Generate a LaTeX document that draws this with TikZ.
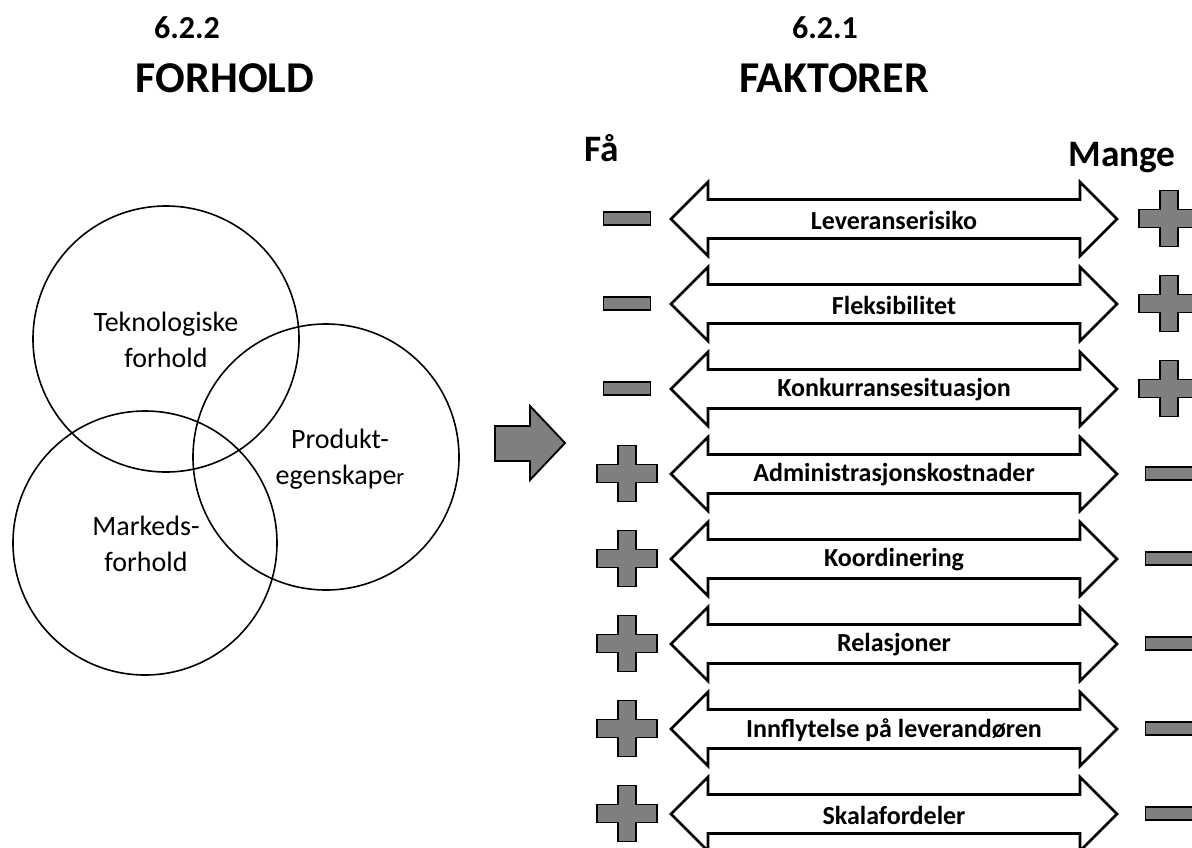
\documentclass[tikz,border=0pt]{standalone}
\usepackage{fontspec}
\setmainfont{Carlito}
\usetikzlibrary{positioning}
\definecolor{signgray}{HTML}{7F7F7F}
\tikzset{
  sign/.style={draw=black,fill=signgray,line width=1.4pt,line join=miter},
  dblarrow/.style={draw=black,fill=white,line width=2pt,line join=miter},
  ring/.style={draw=black,line width=1.2pt},
  ringtext/.style={align=center,inner sep=0pt,font=\fontsize{21}{27}\selectfont},
  rowtext/.style={inner sep=0pt,font=\fontsize{19.5}{23}\selectfont\bfseries},
  headtext/.style={inner sep=0pt,anchor=base,font=\fontsize{33}{40}\selectfont\bfseries},
  numtext/.style={inner sep=0pt,anchor=base,font=\fontsize{24}{29}\selectfont\bfseries},
  endtext/.style={inner sep=0pt,anchor=base,font=\fontsize{28}{34}\selectfont\bfseries},
  pics/plussign/.style={code={
    \path[sign] (-30,-9) -- (-9,-9) -- (-9,-28) -- (9,-28) -- (9,-9) -- (30,-9)
      -- (30,9) -- (9,9) -- (9,28) -- (-9,28) -- (-9,9) -- (-30,9) -- cycle;}},
  pics/minussign/.style={code={\path[sign] (-23.5,-6.5) rectangle (23.5,6.5);}},
}
\begin{document}
\begin{tikzpicture}[x=0.75pt,y=-0.75pt]
\useasboundingbox (0,0) rectangle (1192,847);
% headings
\node[numtext] (N2) at (187,38) {6.2.2};
\node[headtext] (H2) at (225,92) {FORHOLD};
\node[numtext] (N1) at (825,38) {6.2.1};
\node[headtext] (H1) at (834,92) {FAKTORER};
\node[endtext] (Fa) at (602,161) {Få};
\node[endtext] (Ma) at (1122,166) {Mange};
% circles
\draw[ring] (166,339) circle[radius=133];
\draw[ring] (326,457) circle[radius=133];
\draw[ring] (145,543) circle[radius=132];
\node[ringtext] (T) at (166,340) {Teknologiske\\forhold};
\node[ringtext] (P) at (340,459) {Produkt-\\egenskape{\fontsize{17}{20}\selectfont r}};
\node[ringtext] (M) at (146,544) {Markeds-\\forhold};
% block arrow
\path[sign] (495,426) -- (530,426) -- (530,406) -- (565,443) -- (530,480)
  -- (530,461) -- (495,461) -- cycle;
% factor rows
\foreach \i/\txt/\lft/\rgt in {
  1/Leveranserisiko/minussign/plussign,
  2/Fleksibilitet/minussign/plussign,
  3/Konkurransesituasjon/minussign/plussign,
  4/Administrasjonskostnader/plussign/minussign,
  5/Koordinering/plussign/minussign,
  6/Relasjoner/plussign/minussign,
  7/Innflytelse på leverandøren/plussign/minussign,
  8/Skalafordeler/plussign/minussign}{
  \pgfmathsetmacro\c{219+85*(\i-1)}
  \path[dblarrow] (671,\c) -- (708,\c-37) -- (708,\c-19.5) -- (1080,\c-19.5)
    -- (1080,\c-37) -- (1117,\c) -- (1080,\c+37) -- (1080,\c+19.5)
    -- (708,\c+19.5) -- (708,\c+37) -- cycle;
  \node[rowtext] (L\i) at (894,\c+1) {\txt};
  \pic at (627,\c-0.5) {\lft};
  \pic at (1169,\c-0.5) {\rgt};
}
\end{tikzpicture}
\end{document}
